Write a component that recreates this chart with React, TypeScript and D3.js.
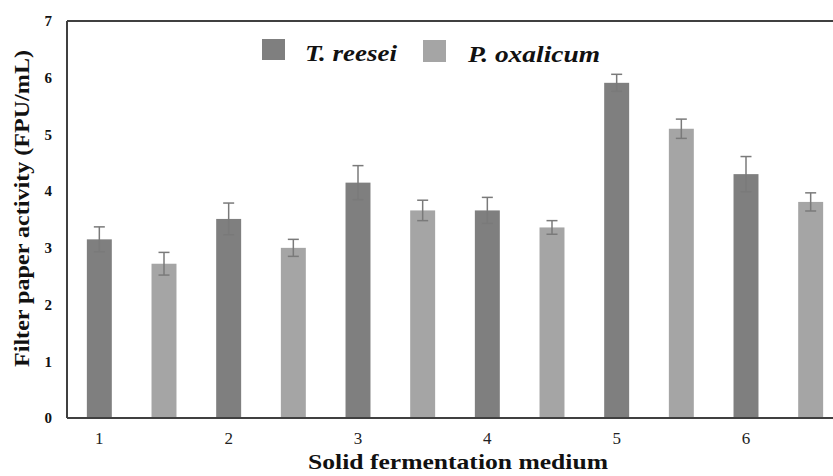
import React from 'react';
import * as d3 from 'd3';

// data
const media = ['1', '2', '3', '4', '5', '6'];
const series = ['T. reesei', 'P. oxalicum'];
const reeseiValues = [3.15, 3.51, 4.15, 3.66, 5.91, 4.30];
const reeseiErrors = [0.22, 0.28, 0.30, 0.23, 0.15, 0.31];
const oxalicumValues = [2.72, 3.00, 3.66, 3.36, 5.10, 3.81];
const oxalicumErrors = [0.20, 0.15, 0.18, 0.12, 0.17, 0.16];
const yTicks = [0, 1, 2, 3, 4, 5, 6, 7];

const seriesColors = ['#7f7f7f', '#a5a5a5'];
const errColor = '#7a7a7a';

export default function App() {
  const width = 833;
  const height = 476;
  const left = 67;
  const top = 21;
  const bottom = 418;
  const right = 843; // plot runs slightly past the visible crop

  const x0 = d3.scaleBand<string>().domain(media).range([left, right]).paddingInner(0).paddingOuter(0);
  const x1 = d3.scaleBand<string>().domain(series).range([0, x0.bandwidth()]).paddingInner(0.614).paddingOuter(0.307);
  const y = d3.scaleLinear().domain([0, 7]).range([bottom, top]);

  const seriesData = [
    { name: series[0], values: reeseiValues, errors: reeseiErrors },
    { name: series[1], values: oxalicumValues, errors: oxalicumErrors },
  ];

  const serif = "'Liberation Serif', 'Times New Roman', 'DejaVu Serif', serif";
  const capW = 11;

  return (
    <svg width={width} height={height} style={{ position: 'absolute', left: 0, top: 0, background: '#fff', fontFamily: serif }}>
      {/* bars */}
      {seriesData.map((s, si) => (
        <g key={s.name}>
          {s.values.map((v, i) => {
            const bx = (x0(media[i]) ?? 0) + (x1(s.name) ?? 0);
            return (
              <rect key={i} x={bx} y={y(v)} width={x1.bandwidth()} height={y(0) - y(v)} fill={seriesColors[si]} />
            );
          })}
        </g>
      ))}
      {/* error bars */}
      {seriesData.map((s) => (
        <g key={s.name + '-err'} stroke={errColor} strokeWidth={1.5}>
          {s.values.map((v, i) => {
            const cx = (x0(media[i]) ?? 0) + (x1(s.name) ?? 0) + x1.bandwidth() / 2;
            const hi = y(v + s.errors[i]);
            const lo = y(v - s.errors[i]);
            return (
              <g key={i}>
                <line x1={cx} x2={cx} y1={hi} y2={lo} />
                <line x1={cx - capW / 2} x2={cx + capW / 2} y1={hi} y2={hi} />
                <line x1={cx - capW / 2} x2={cx + capW / 2} y1={lo} y2={lo} />
              </g>
            );
          })}
        </g>
      ))}
      {/* frame */}
      <g stroke="#404040" strokeWidth={2} fill="none">
        <line x1={left} x2={left} y1={top} y2={bottom} />
        <line x1={left} x2={width} y1={bottom} y2={bottom} />
        <line x1={left} x2={width} y1={top} y2={top} />
      </g>
      {/* y ticks */}
      {yTicks.map((t) => (
        <text key={t} x={52} y={y(t)} dy="0.35em" textAnchor="end" fontSize={15} fontWeight="bold" fill="#111">
          {t}
        </text>
      ))}
      {/* x ticks, under the T. reesei bars */}
      {media.map((m) => (
        <text
          key={m}
          x={(x0(m) ?? 0) + (x1(series[0]) ?? 0) + x1.bandwidth() / 2}
          y={444}
          textAnchor="middle"
          fontSize={17}
          fill="#222"
        >
          {m}
        </text>
      ))}
      {/* axis titles */}
      <text x={308} y={469} fontSize={21} fontWeight="bold" fill="#111" textLength={300} lengthAdjust="spacingAndGlyphs">
        Solid fermentation medium
      </text>
      <text
        transform={`translate(29, 367) rotate(-90)`}
        fontSize={21}
        fontWeight="bold"
        fill="#111"
        textLength={317}
        lengthAdjust="spacingAndGlyphs"
      >
        Filter paper activity (FPU/mL)
      </text>
      {/* legend */}
      <rect x={262} y={39} width={23} height={21} fill={seriesColors[0]} />
      <text x={305} y={61} fontSize={23} fontWeight="bold" fontStyle="italic" fill="#111" textLength={92} lengthAdjust="spacingAndGlyphs">
        {series[0]}
      </text>
      <rect x={423} y={40} width={23} height={22} fill={seriesColors[1]} />
      <text x={468} y={62} fontSize={23} fontWeight="bold" fontStyle="italic" fill="#111" textLength={132} lengthAdjust="spacingAndGlyphs">
        {series[1]}
      </text>
    </svg>
  );
}
